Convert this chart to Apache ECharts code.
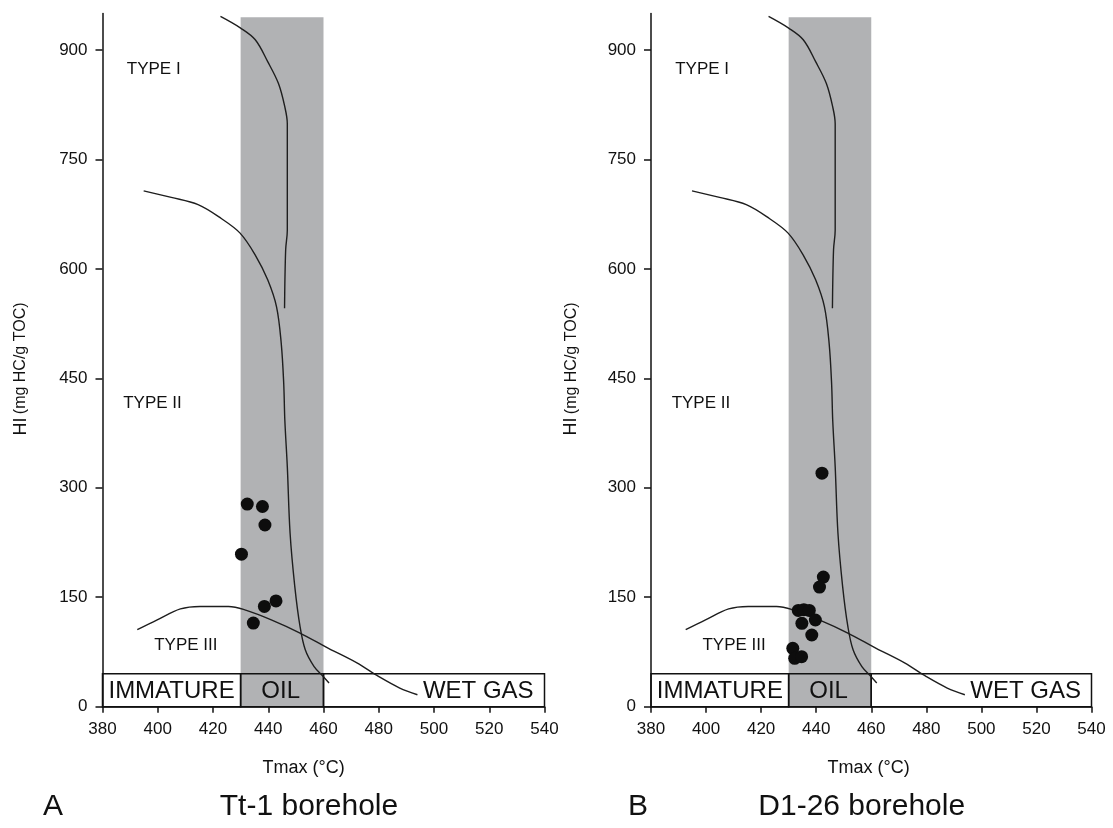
<!DOCTYPE html>
<html>
<head>
<meta charset="utf-8">
<script src="https://cdn.jsdelivr.net/npm/echarts@6/dist/echarts.min.js"></script>
<style>
html,body{margin:0;padding:0;background:#fff;}
#chart{width:1113px;height:828px;}
</style>
</head>
<body>
<div id="chart"></div>
<script>
// ---- data ----
const yTickValues = [0, 150, 300, 450, 600, 750, 900];
const xMin = 380, xMax = 540, xStep = 20;
const yMin = 0, yMax = 950;

// maturity zones (Tmax boundaries) and their names
const zoneNames = ['IMMATURE', 'OIL', 'WET GAS'];
const zoneBounds = [380, 430, 460, 540];
const zoneTop = 45;
const oilBand = [430, 460];
const oilBandTop = 945;

// kerogen type boundary curves [Tmax, HI]
const typeICurve = [[422.7,946],[430,930],[435.3,914],[439.8,884],[443.7,854],[446,822],[446.9,799],[446.9,740],[446.9,653],[446.3,626],[445.9,546]];
const typeIICurve = [[394.9,707],[404.9,698],[414.6,688],[423,669],[429.8,649],[435.3,619],[439.8,585],[443,548],[444.7,498],[445.6,443],[446,393],[446.9,329],[447.9,238],[449.6,165],[451.5,110],[453.4,78],[456.6,55],[459.9,41.5],[462,32.5]];
const typeIIICurve = [[392.6,105.5],[399.8,119],[408.2,134],[415.3,137.4],[425.6,137.4],[432.1,132],[441.1,119],[451.5,101],[461.8,80],[472.1,60],[479.9,41.5],[487.6,25.6],[494,16.4]];

// kerogen type labels [name, Tmax, HI]
const typeLabelNames = ['TYPE I', 'TYPE II', 'TYPE III'];
const typeLabelPos = [[388.8, 873], [387.5, 416], [398.7, 83.6]];

// samples [Tmax, HI]
const tt1Samples = [[432.4,277.7],[437.9,274.4],[438.8,249],[430.3,209],[438.6,137.4],[442.8,145],[434.6,114.6]];
const d126Samples = [[442.1,320],[442.6,177.7],[441.2,164],[433.5,132],[435.5,133],[437.5,132],[439.7,118.8],[434.8,114.3],[438.4,98.3],[431.5,80],[432.2,66.3],[434.7,68.5]];

const panelTitles = ['Tt-1 borehole', 'D1-26 borehole'];
const panelLetters = ['A', 'B'];
const xAxisName = 'Tmax (°C)';

// ---- chart ----
const FONT = '"Liberation Sans", Arial, sans-serif';
const INK = '#111111';
const chart = echarts.init(document.getElementById('chart'), null, {renderer: 'canvas'});

const grids = [
  {left: 102.5, right: 568.5, top: 13.5, bottom: 121.3},
  {left: 651, right: 21.5, top: 13.5, bottom: 121.3}
];

function xAxisDef(i) {
  return {
    type: 'value', gridIndex: i, min: xMin, max: xMax, interval: xStep,
    splitLine: {show: false},
    axisLine: {show: true, onZero: false, lineStyle: {color: '#111', width: 1.5}},
    axisTick: {show: true, length: 6, lineStyle: {color: '#111', width: 1.5}},
    axisLabel: {color: INK, fontSize: 17, fontFamily: FONT, margin: 14}
  };
}
function yAxisDef(i) {
  return {
    type: 'value', gridIndex: i, min: yMin, max: yMax,
    splitLine: {show: false},
    axisLine: {show: true, onZero: false, lineStyle: {color: '#111', width: 1.5}},
    axisTick: {show: true, length: 7, customValues: yTickValues, lineStyle: {color: '#111', width: 1.5}},
    axisLabel: {color: INK, fontSize: 17, fontFamily: FONT, margin: 15, customValues: yTickValues}
  };
}

function panelSeries(i, samples) {
  const s = [];
  // oil window band
  s.push({
    type: 'scatter', xAxisIndex: i, yAxisIndex: i, data: [], z: 1, silent: true,
    markArea: {silent: true, itemStyle: {color: '#b1b2b4', opacity: 1},
      data: [[{xAxis: oilBand[0], yAxis: 0}, {xAxis: oilBand[1], yAxis: oilBandTop}]]}
  });
  // zone boxes
  const boxes = [];
  for (let k = 0; k < zoneNames.length; k++) {
    boxes.push([{xAxis: zoneBounds[k], yAxis: 0}, {xAxis: zoneBounds[k + 1], yAxis: zoneTop}]);
  }
  s.push({
    type: 'scatter', xAxisIndex: i, yAxisIndex: i, data: [], z: 2, silent: true,
    markArea: {silent: true, itemStyle: {color: 'rgba(0,0,0,0)', borderColor: '#111', borderWidth: 1.5, opacity: 1},
      label: {show: false}, data: boxes}
  });
  // curves
  [typeICurve, typeIICurve, typeIIICurve].forEach(c => {
    s.push({
      type: 'line', xAxisIndex: i, yAxisIndex: i, data: c, z: 3, smooth: 0.35,
      symbol: 'none', silent: true, lineStyle: {color: '#1e1e1e', width: 1.4}
    });
  });
  // samples
  s.push({
    type: 'scatter', xAxisIndex: i, yAxisIndex: i, data: samples, z: 4,
    symbol: 'circle', symbolSize: 13, itemStyle: {color: '#0d0d0d', opacity: 1}
  });
  // type labels
  s.push({
    type: 'scatter', xAxisIndex: i, yAxisIndex: i, z: 5, symbolSize: 0, silent: true,
    itemStyle: {opacity: 1},
    data: typeLabelNames.map((n, k) => ({name: n, value: typeLabelPos[k]})),
    label: {show: true, position: 'right', distance: 0, formatter: p => p.name,
      color: INK, fontSize: 17, fontFamily: FONT}
  });
  // zone labels
  const zoneLabelData = [
    {name: zoneNames[0], value: [(zoneBounds[0] + zoneBounds[1]) / 2, zoneTop / 2 - 1.5], label: {position: 'inside'}},
    {name: zoneNames[1], value: [(zoneBounds[1] + zoneBounds[2]) / 2 - 0.5, zoneTop / 2 - 1.5], label: {position: 'inside'}},
    {name: zoneNames[2], value: [496, zoneTop / 2 - 1.5], label: {position: 'right', distance: 0}}
  ];
  s.push({
    type: 'scatter', xAxisIndex: i, yAxisIndex: i, z: 5, symbolSize: 0, silent: true,
    itemStyle: {opacity: 1},
    data: zoneLabelData,
    label: {show: true, formatter: p => p.name, color: INK, fontSize: 24, fontFamily: FONT}
  });
  return s;
}

const yNameText = '{a|HI} {b|(mg HC/g TOC)}';
const yNameRich = {
  a: {fontSize: 18, fontFamily: FONT, fill: INK, color: INK},
  b: {fontSize: 16, fontFamily: FONT, fill: INK, color: INK}
};

const graphics = [
  {type: 'text', x: 20.7, y: 369, rotation: Math.PI / 2,
   style: {text: yNameText, rich: yNameRich, align: 'center', verticalAlign: 'middle', fill: INK}},
  {type: 'text', x: 571.5, y: 369, rotation: Math.PI / 2,
   style: {text: yNameText, rich: yNameRich, align: 'center', verticalAlign: 'middle', fill: INK}},
  {type: 'text', x: 303.6, y: 768.3, style: {text: xAxisName, font: '18px ' + FONT, align: 'center', verticalAlign: 'middle', fill: INK}},
  {type: 'text', x: 868.7, y: 768.3, style: {text: xAxisName, font: '18px ' + FONT, align: 'center', verticalAlign: 'middle', fill: INK}},
  {type: 'text', x: 53, y: 806.7, style: {text: panelLetters[0], font: '30px ' + FONT, align: 'center', verticalAlign: 'middle', fill: INK}},
  {type: 'text', x: 309, y: 806.7, style: {text: panelTitles[0], font: '30px ' + FONT, align: 'center', verticalAlign: 'middle', fill: INK}},
  {type: 'text', x: 638, y: 806.7, style: {text: panelLetters[1], font: '30px ' + FONT, align: 'center', verticalAlign: 'middle', fill: INK}},
  {type: 'text', x: 861.7, y: 806.7, style: {text: panelTitles[1], font: '30px ' + FONT, align: 'center', verticalAlign: 'middle', fill: INK}}
];

chart.setOption({
  backgroundColor: '#ffffff',
  animation: false,
  grid: grids,
  xAxis: [xAxisDef(0), xAxisDef(1)],
  yAxis: [yAxisDef(0), yAxisDef(1)],
  series: [...panelSeries(0, tt1Samples), ...panelSeries(1, d126Samples)],
  graphic: graphics
});
</script>
</body>
</html>
